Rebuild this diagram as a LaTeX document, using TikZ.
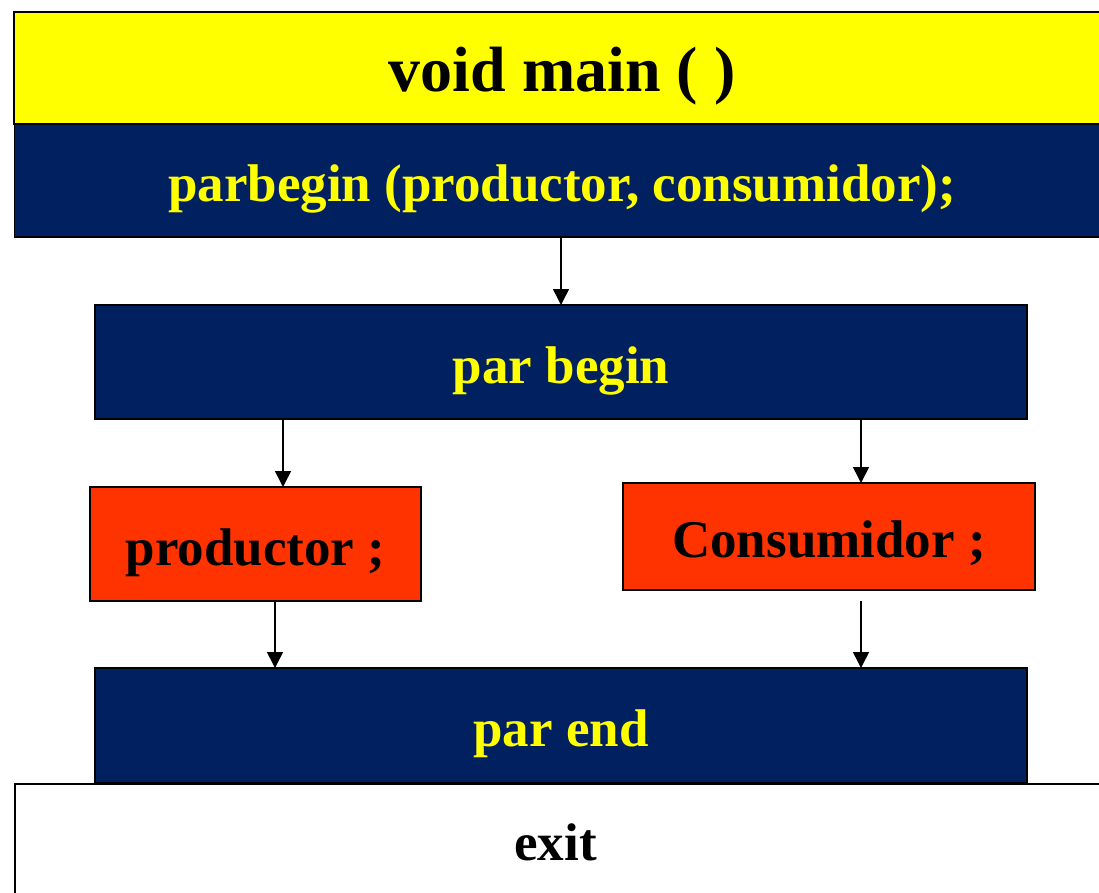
\documentclass[tikz,border=0pt]{standalone}
\usepackage{fontspec}
\setmainfont{Liberation Serif}
\usetikzlibrary{arrows.meta,positioning}
\definecolor{navyblue}{RGB}{0,32,96}
\definecolor{redorange}{RGB}{255,51,0}
\definecolor{lemon}{RGB}{255,255,0}

\begin{document}
\begin{tikzpicture}[>={Triangle[length=16pt,width=16pt]}, line width=1.6pt, x=1pt, y=1pt]

    \tikzstyle{blk} = [rectangle, draw=black, line width=1.5pt, inner sep=0pt, outer sep=0pt, text centered, text height=45pt, text depth=3pt, font=\fontsize{53}{60}\selectfont\bfseries]
    \tikzstyle{bar} = [blk, fill=navyblue, text=lemon]
    \tikzstyle{task} = [blk, fill=redorange, text=black]

    \useasboundingbox (0,0) rectangle (1099,-893);

    \node (main)  [blk, fill=lemon, minimum width=1096pt, minimum height=112pt, text height=50pt, text depth=2pt, font=\fontsize{64}{70}\selectfont\bfseries] at (562,-68) {void main ( )};

    \node (parbegin)  [bar, minimum width=1095pt, minimum height=113pt, below=0pt of main]  {parbegin (productor, consumidor);};

    \node (parbeg)  [bar, minimum width=932pt, minimum height=114pt] at (561,-362)  {par begin};

    \node (prod)  [task, minimum width=331pt, minimum height=114pt] at (255.5,-544)  {productor ;};

    \node (cons)  [task, minimum width=412pt, minimum height=107pt] at (829,-536.5)  {Consumidor ;};

    \node (exit)  [blk, fill=white, minimum width=1095pt, minimum height=122pt,
                   label={[font=\fontsize{53}{60}\selectfont\bfseries, text height=30pt, text depth=6pt, inner sep=0pt, xshift=-7pt, yshift=-3pt]center:exit}] at (562.5,-845)  {};

    \node (parend)  [bar, minimum width=932pt, minimum height=115pt] at (561,-725.5)  {par end};


    \draw[->]  (parbegin.south -| parbeg.north)  --  (parbeg.north);
    \draw[->]  ([xshift=-278pt]parbeg.south) coordinate (p1)  --  (p1 |- prod.north);
    \draw[->]  ([xshift=300pt]parbeg.south) coordinate (p2)  --  (p2 |- cons.north);
    \draw[->]  ([xshift=19.5pt]prod.south) coordinate (p3)  --  (p3 |- parend.north);
    \draw[->]  ([xshift=32pt,yshift=-11pt]cons.south) coordinate (p4)  --  (p4 |- parend.north);
\end{tikzpicture}
\end{document}
